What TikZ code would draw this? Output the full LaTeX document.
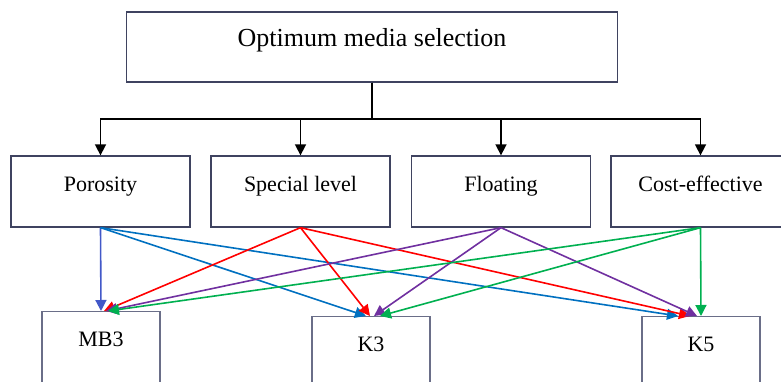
\documentclass[tikz,border=0pt]{standalone}
\usepackage{fontspec}
\setmainfont{Liberation Serif}
\usepackage{xcolor}
\usetikzlibrary{arrows.meta}

\definecolor{boxline}{HTML}{3F4360}
\definecolor{leafline}{HTML}{6A6E88}
\definecolor{porblue}{HTML}{0070C0}
\definecolor{porblueb}{HTML}{4258C8}
\definecolor{specred}{HTML}{FF0000}
\definecolor{flopurple}{HTML}{7030A0}
\definecolor{costgreen}{HTML}{00B050}

\begin{document}
\begin{tikzpicture}[x=1pt, y=-1pt, >={Triangle[length=11pt,width=11pt]}, line width=1.6pt,
  every node/.style={inner sep=0pt},
  goalbox/.style={draw=boxline, line width=1.3pt, minimum width=491pt, minimum height=70pt,
    text height=13pt, text depth=13pt, font=\fontsize{26}{30}\selectfont},
  critbox/.style={draw=boxline, line width=1.3pt, minimum width=179pt, minimum height=71pt,
    text height=11pt, text depth=11pt, font=\fontsize{22}{26}\selectfont},
  mediabox/.style={draw=leafline, line width=1.3pt, anchor=north, minimum width=118pt,
    text height=35pt, text depth=40pt, font=\fontsize{22}{26}\selectfont}]

  \useasboundingbox (0,0) rectangle (781,382);

  % Goal and criteria
  \node[goalbox] (goal) at (372,47) {Optimum media selection};
  \node[critbox] (por) at (100.5,191.5) {Porosity};
  \node[critbox] (spec) at (300.5,191.5) {Special level};
  \node[critbox] (flo) at (501,191.5) {Floating};
  \node[critbox] (cost) at (700.5,191.5) {Cost-effective};

  % Media
  \node[mediabox] (mb3) at (101,311) {MB3};
  \node[mediabox] (k3) at (371,316) {K3};
  \node[mediabox] (k5) at (701,316) {K5};

  % Tree
  \coordinate (bus) at (372,119);
  \foreach \c in {por,spec,flo,cost}
    \draw[->] (goal.south) -- (bus) -| (\c.north);

  % Criteria to media
  \draw[->, porblueb] (por.south) -- (mb3.north);
  \draw[->, porblue] (por.south) -- ([xshift=-5pt]k3.north);
  \draw[->, porblue] (por.south) -- ([xshift=-23pt]k5.north);

  \draw[->, specred] (spec.south) -- ([xshift=3pt]mb3.north);
  \draw[->, specred] (spec.south) -- ([xshift=-1pt]k3.north);
  \draw[->, specred] (spec.south) -- ([xshift=-11pt]k5.north);

  \draw[->, flopurple] (flo.south) -- ([xshift=5pt]mb3.north);
  \draw[->, flopurple] (flo.south) -- ([xshift=3pt]k3.north);
  \draw[->, flopurple] (flo.south) -- ([xshift=-4pt]k5.north);

  \draw[->, costgreen] (cost.south) -- ([xshift=7pt]mb3.north);
  \draw[->, costgreen] (cost.south) -- ([xshift=9pt]k3.north);
  \draw[->, costgreen] (cost.south) -- (k5.north);

\end{tikzpicture}
\end{document}
